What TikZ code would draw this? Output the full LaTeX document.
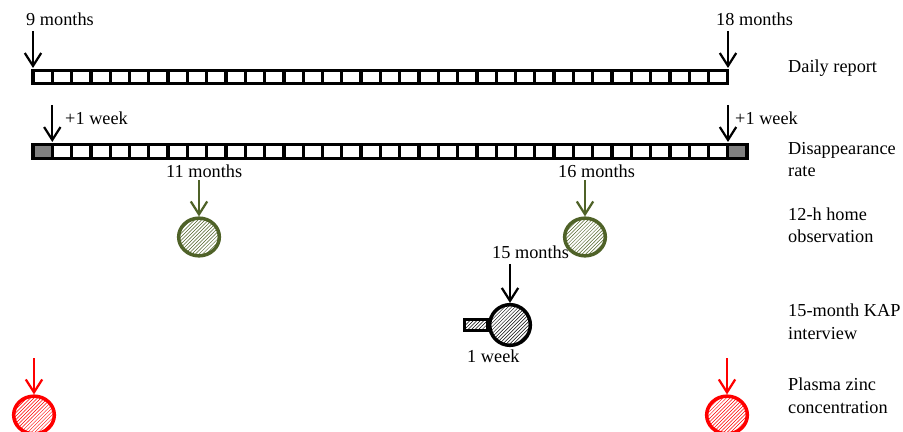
\documentclass[tikz,border=0pt]{standalone}
\usepackage{fontspec}
\setmainfont{Liberation Serif}
\usetikzlibrary{arrows.meta,patterns,shapes.geometric}
\definecolor{olivegreen}{RGB}{79,98,40}
\definecolor{cellgrey}{RGB}{128,128,128}
\tikzset{
  cell/.style={draw=black, line width=2.8pt, fill=white},
  greycell/.style={draw=black, line width=2.8pt, fill=cellgrey},
  pointer/.style={line width=1.9pt, -{Straight Barb[length=11pt,width=14pt,line width=1.9pt]}},
  visit/.style={ellipse, draw, line width=3pt, minimum width=1.22cm, minimum height=1.13cm, inner sep=0pt},
  tag/.style={anchor=base west, inner sep=0pt, align=left, font=\fontsize{15.6}{19}\selectfont},
}
\begin{document}
\begin{tikzpicture}[x=0.03cm, y=-0.03cm]
\useasboundingbox (0,0) rectangle (903,432);
% daily report
\foreach \i in {0,...,35}
  \draw[cell] (33+\i*19.3,70.5) rectangle ++(19.3,13);
\node[tag] (m9) at (26,26) {9 months};
\node[tag] (m18) at (716,26) {18 months};
\coordinate (d1) at (33,31);
\coordinate (d1end) at (33,68);
\coordinate (d2) at (728,31);
\coordinate (d2end) at (728,68);
\draw[pointer] (d1) -- (d1end);
\draw[pointer] (d2) -- (d2end);
\node[tag] (daily) at (788,73) {Daily report};
% disappearance rate
\foreach \i in {1,...,35}
  \draw[cell] (33+\i*19.3,144.5) rectangle ++(19.3,14);
\draw[greycell] (33,144.5) rectangle ++(19.3,14);
\draw[greycell] (33+36*19.3,144.5) rectangle ++(19.3,14);
\node[tag] (w1) at (65,125) {+1 week};
\node[tag] (w2) at (735,125) {+1 week};
\coordinate (r1) at (52.3,105);
\coordinate (r1end) at (52.3,142);
\coordinate (r2) at (728,105);
\coordinate (r2end) at (728,142);
\draw[pointer] (r1) -- (r1end);
\draw[pointer] (r2) -- (r2end);
\node[tag] (disap) at (788,177) {Disappearance\\rate};
% 12-h home observation
\node[visit, draw=olivegreen, pattern=north east lines, pattern color=olivegreen] (home11) at (199,237) {};
\node[visit, draw=olivegreen, pattern=north east lines, pattern color=olivegreen] (home16) at (585,237) {};
\node[tag] (m11) at (166,178) {11 months};
\node[tag] (m16) at (558,178) {16 months};
\coordinate (h1) at (199,180);
\coordinate (h2) at (585,180);
\draw[pointer, olivegreen] (h1) -- (home11.north);
\draw[pointer, olivegreen] (h2) -- (home16.north);
\node[tag] (home) at (788,243) {12-h home\\observation};
% 15-month KAP interview
\node[visit, minimum height=1.22cm, pattern=north east lines] (kap) at (510,325) {};
\node[draw, line width=2.4pt, pattern=north east lines, minimum width=0.68cm, minimum height=0.34cm, inner sep=0pt, anchor=east] (kapweek) at ([xshift=0.5pt]kap.west) {};
\node[tag] (m15) at (492,259) {15 months};
\node[tag] (week) at (467,362) {1 week};
\coordinate (k1) at (510,264);
\draw[pointer] (k1) -- (kap.north);
\node[tag] (kapint) at (788,339) {15-month KAP\\interview};
% plasma zinc concentration
\node[visit, draw=red, pattern=north east lines, pattern color=red] (zinc9) at (34,415) {};
\node[visit, draw=red, pattern=north east lines, pattern color=red] (zinc18) at (727,415) {};
\coordinate (z1) at (34,358);
\coordinate (z2) at (727,358);
\draw[pointer, red] (z1) -- (zinc9.north);
\draw[pointer, red] (z2) -- (zinc18.north);
\node[tag] (zinc) at (788,413) {Plasma zinc\\concentration};
\end{tikzpicture}
\end{document}
